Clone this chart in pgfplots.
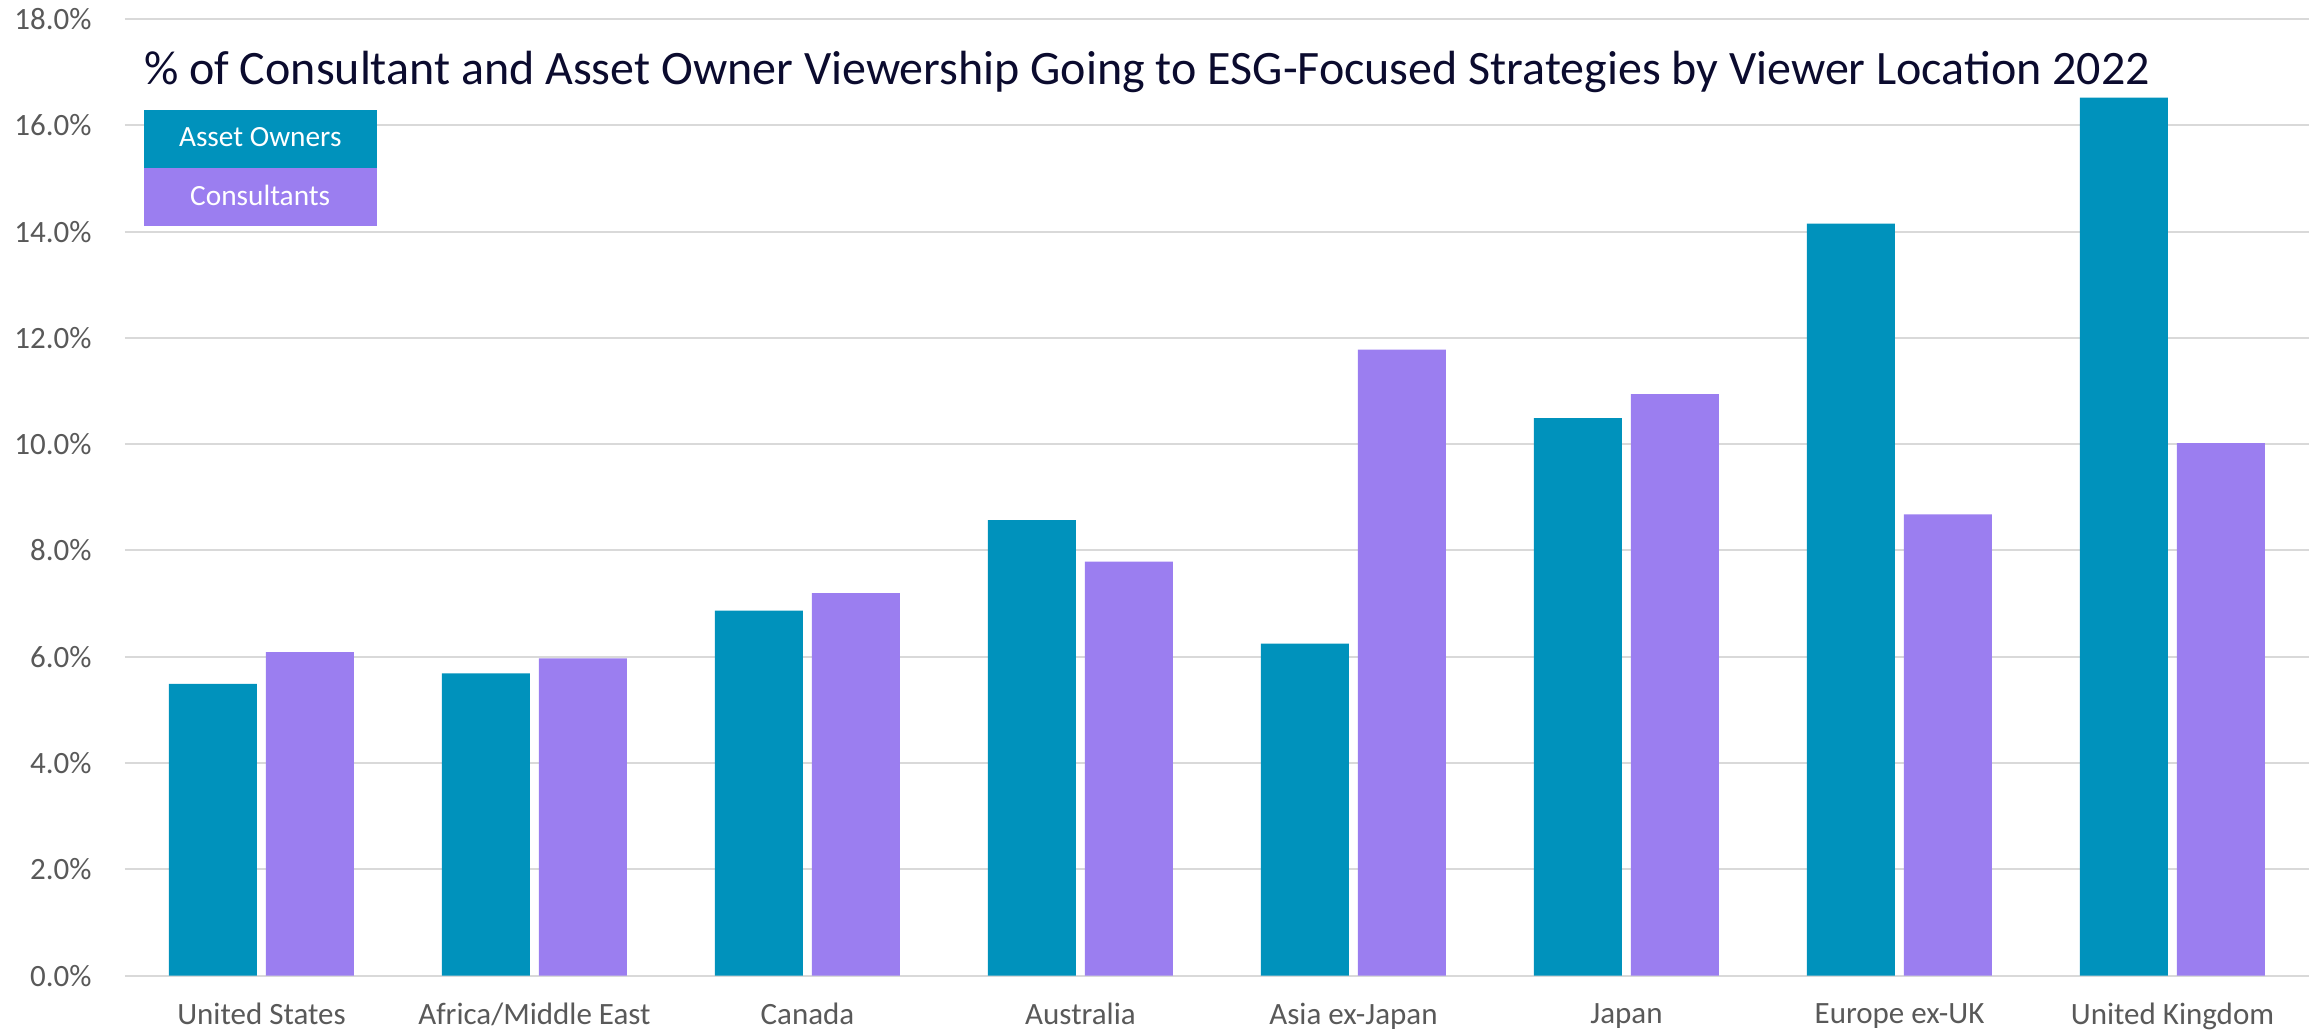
\documentclass[border=0pt]{standalone}
\usepackage{fontspec}
\setmainfont{Carlito}
\usepackage{pgfplots}
\pgfplotsset{compat=1.18}
\definecolor{ao}{HTML}{0092BC}
\definecolor{cons}{HTML}{9B7EF0}
\definecolor{ticktext}{HTML}{595959}
\definecolor{gridc}{HTML}{D9D9D9}
\definecolor{titlec}{HTML}{0B0B2E}
\begin{document}
\begin{tikzpicture}
\begin{axis}[
  scale only axis, width=655.2pt, height=287pt,
  ymin=0, ymax=18, ytick={0,2,...,18},
  xmin=-0.5, xmax=7.5, xtick={0,...,7},
  xticklabels={United States, Africa/Middle East, Canada, Australia, Asia ex-Japan, Japan, Europe ex-UK, United Kingdom},
  ybar, bar width=26.4pt,
  axis line style={draw=none},
  major tick length=0pt,
  ymajorgrids, grid style={gridc, line width=0.6pt},
  /pgf/number format/assume math mode=true,
  yticklabel={\pgfmathprintnumber[fixed,fixed zerofill,precision=1]{\tick}\%},
  tick label style={font=\fontsize{9.3}{11}\selectfont, text=ticktext},
  yticklabel style={xshift=-6.5pt},
  xticklabel style={yshift=-4.8pt},
  legend style={at={(axis cs:-0.432,16.28)}, anchor=north west, draw=none, fill=none,
    inner sep=0pt, outer sep=0pt, row sep=0pt, column sep=0pt, font=\fontsize{8.8}{11}\selectfont},
]
\addplot[fill=ao, draw=none, bar shift=-14.55pt, legend image code/.code={}]
  coordinates {(0,5.49) (1,5.69) (2,6.87) (3,8.57) (4,6.25) (5,10.49) (6,14.15) (7,16.52)};
\addlegendentry[fill=ao, text=white, minimum width=70pt, minimum height=17.4pt, inner sep=0pt, outer sep=0pt]{Asset Owners}
\addplot[fill=cons, draw=none, bar shift=14.55pt, legend image code/.code={}]
  coordinates {(0,6.09) (1,5.97) (2,7.20) (3,7.79) (4,11.78) (5,10.94) (6,8.68) (7,10.02)};
\addlegendentry[fill=cons, text=white, minimum width=70pt, minimum height=17.4pt, inner sep=0pt, outer sep=0pt]{Consultants}
\end{axis}
\node[anchor=base west, inner sep=0pt, text=titlec, font=\fontsize{14.4}{17}\selectfont] at (5.5pt,267.5pt)
  {\% of Consultant and Asset Owner Viewership Going to ESG-Focused Strategies by Viewer Location 2022};
\pgfresetboundingbox
\useasboundingbox (-37.5pt,-16.59pt) rectangle (658.5pt,292.71pt);
\end{tikzpicture}
\end{document}
